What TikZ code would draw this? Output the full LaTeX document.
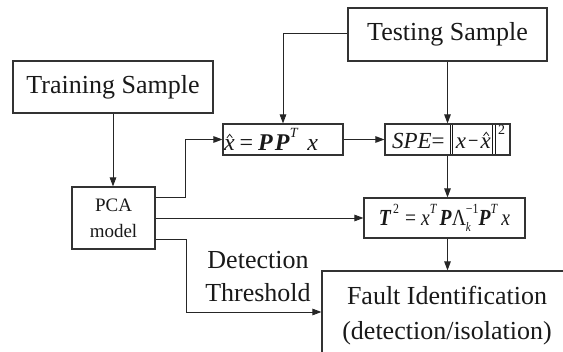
\documentclass[tikz,border=0pt]{standalone}
\usepackage{fontspec}
\setmainfont{Liberation Serif}
\usetikzlibrary{arrows.meta}

% helpers for the formulas
\newcommand\bi[1]{\textbf{\textit{#1}}}
\newcommand\upidx[1]{\raisebox{0.52em}{\fontsize{14}{14}\selectfont #1}}
\newcommand\dnidx[1]{\raisebox{-0.28em}{\fontsize{13}{13}\selectfont #1}}
% x with a hat drawn as a small chevron
\newcommand\xhat{\makebox[0pt][l]{\hspace{2.6pt}\tikz[x=1pt,y=1pt,baseline=0pt]\draw[line width=0.75pt,line join=miter,black!90] (0,12.5)--(2.7,16)--(5.4,12.5);}\textit{x}}
\newcommand\normbar{\rule[-6pt]{0.8pt}{29pt}\hspace{2pt}\rule[-6pt]{0.6pt}{29pt}}

\begin{document}
\begin{tikzpicture}[x=1pt,y=-1pt,
  box/.style={draw=black!80, line width=1.1pt, inner sep=0pt, text=black!90, align=center},
  conn/.style={draw=black!85, line width=0.9pt, -{Triangle[length=9pt,width=6.5pt]}},
  big/.style={font=\fontsize{26}{35}\selectfont},
]
\useasboundingbox (0,0) rectangle (563,352);
\clip (0,0) rectangle (563,352);

% sample sources
\node[box, big, minimum width=200pt, minimum height=52pt] (train) at (113,87) {Training Sample};
\node[box, big, minimum width=199pt, minimum height=53pt] (test) at (447.5,34.5) {Testing Sample};

% model
\node[box, font=\fontsize{19}{26}\selectfont, minimum width=83pt, minimum height=62pt] (pca) at (113.5,218) {PCA\\model};

% reconstruction and statistics
\node[box, font=\fontsize{24}{28}\selectfont, minimum width=120pt, minimum height=31pt] (xhat) at (283,139.5)
  {\makebox[120pt][l]{\hspace{1pt}\xhat\hspace{5pt}=\hspace{5pt}\bi{P}\hspace{2pt}\bi{P}\upidx{\textit{T}}\hspace{9pt}\textit{x}}};
\node[box, font=\fontsize{23}{28}\selectfont, minimum width=125pt, minimum height=31pt] (spe) at (447.5,139.5)
  {\makebox[125pt][l]{\hspace{7pt}\textit{SPE}=\hspace{5pt}\normbar\hspace{3pt}\textit{x}\hspace{2pt}\scalebox{0.8}[1]{−}\hspace{2pt}\xhat\hspace{1pt}\normbar\hspace{3pt}\raisebox{0.62em}{\fontsize{14}{14}\selectfont 2}}};
\node[box, font=\fontsize{23}{28}\selectfont, minimum width=161pt, minimum height=40pt] (t2) at (444.5,218)
  {\scalebox{0.85}[1]{\bi{T}\hspace{2pt}\upidx{2}\hspace{7pt}=\hspace{6pt}\textit{x}\upidx{\textit{T}}\hspace{3pt}\bi{P}Λ\makebox[0pt][l]{\dnidx{\textit{k}}}\upidx{−1}\bi{P}\upidx{\textit{T}}\hspace{4pt}\textit{x}}};

% result
\node[box, big, minimum width=250pt, minimum height=90pt] (fault) at (447,316) {Fault Identification\\(detection/isolation)};

% threshold label
\node[big, text=black!90, align=center, inner sep=0pt] (thr) at (258,276.5) {Detection\\[-2pt]Threshold};

% connectors
\draw[conn] (train.south) -- (train.south |- pca.north);
\draw[conn] ([yshift=21pt]pca.east) -| ([xshift=-37pt]xhat.west) -- (xhat.west);
\draw[conn] (pca.east) -- (t2.west);
\draw[conn] ([yshift=-21pt]pca.east) -- ++(31,0) |- ([yshift=4pt]fault.west);
\draw[conn] ([yshift=1.5pt]test.west) -| (xhat.north);
\draw[conn] (test.south) -- (spe.north);
\draw[conn] (xhat.east) -- (spe.west);
\draw[conn] (spe.south) -- (spe.south |- t2.north);
\draw[conn] (spe.south |- t2.south) -- (spe.south |- fault.north);
\end{tikzpicture}
\end{document}
